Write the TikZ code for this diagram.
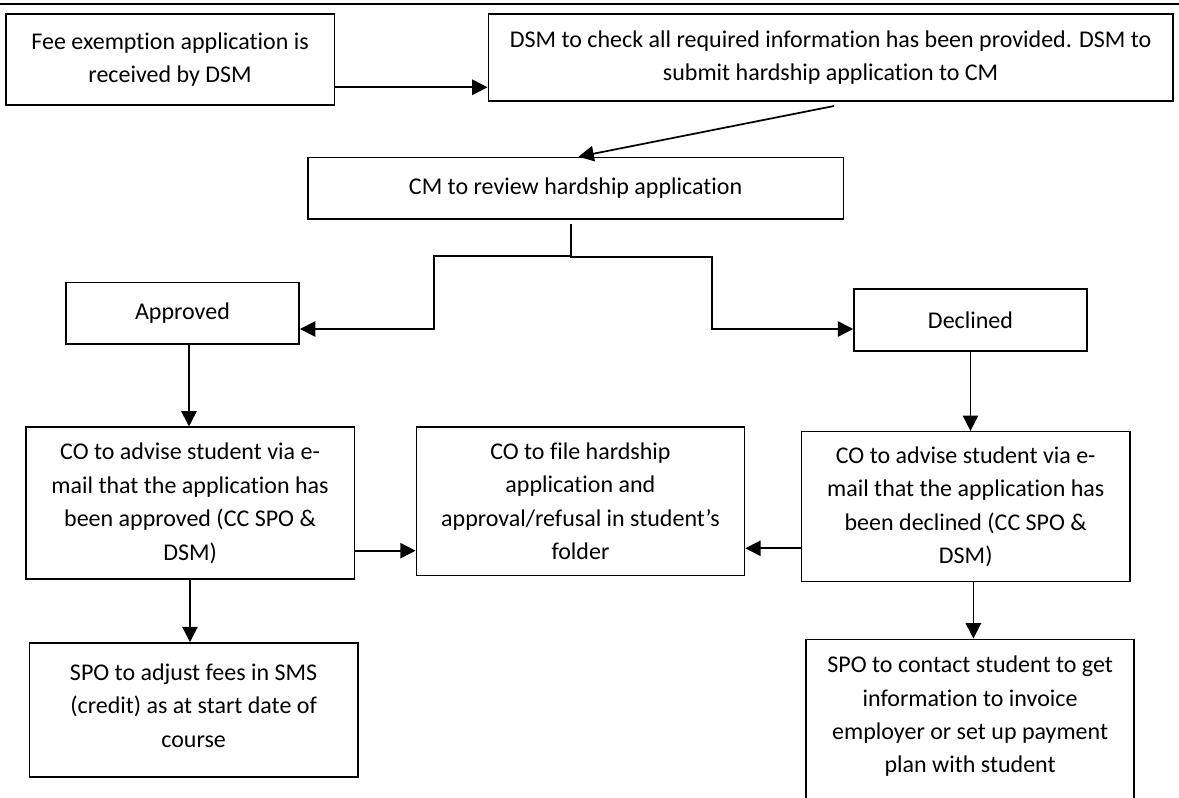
\documentclass[tikz,border=0pt]{standalone}
\usepackage{fontspec}
\setmainfont[Ligatures=NoCommon]{Carlito}
\usetikzlibrary{arrows.meta}
\begin{document}
\begin{tikzpicture}[x=0.75pt, y=-0.75pt,
  box/.style={draw=black, line width=1.2pt, inner sep=0pt, align=center,
    font=\fontsize{18pt}{25.1pt}\selectfont},
  txt/.style={inner sep=0pt, align=center, font=\fontsize{18pt}{25.1pt}\selectfont},
  link/.style={line width=1.3pt},
  arr/.style={line width=1.3pt, -{Triangle[length=11.5pt, width=11.5pt]}},
  rule/.style={line width=2pt}]
\fill[white] (0,0) rectangle (1179,798);
\useasboundingbox (0,0) rectangle (1179,798);
\clip (0,0) rectangle (1179,798);

% top rule
\coordinate (tl) at (0,4);
\coordinate (tr) at (1179,4);
\draw[rule] (tl) -- (tr);

% boxes
\node[box, minimum width=246.6pt, minimum height=68.25pt] (B1) at (170.1,59.5)
  {Fee exemption application is\\received by DSM};
\node[box, minimum width=513.5pt, minimum height=65.25pt] (B2) at (830.65,57.5)
  {DSM to check all required information has been provided. DSM to\\submit hardship application to CM};
\node[box, minimum width=401.9pt, minimum height=46.35pt] (CM) at (575.65,188.4)
  {CM to review hardship application};
\node[box, minimum width=175.1pt, minimum height=46pt] (AP) at (182.45,313.35)
  {Approved};
\node[box, minimum width=174.75pt, minimum height=46.5pt] (DE) at (970.5,320)
  {Declined};
\node[box, minimum width=246.5pt, minimum height=113.8pt] (CA) at (190.05,503.15)
  {CO to advise student via e-\\mail that the application has\\been approved (CC SPO \&\\DSM)};
\node[box, minimum width=246.1pt, minimum height=111.15pt] (CF) at (580.45,501.4)
  {CO to file hardship\\application and\\approval/refusal in student’s\\folder};
\node[box, minimum width=246.4pt, minimum height=112.5pt] (CD) at (965.75,506.7)
  {CO to advise student via e-\\mail that the application has\\been declined (CC SPO \&\\DSM)};
\node[box, minimum width=246.3pt, minimum height=100.35pt] (SA) at (193.6,709.8) {};
\node[txt] (SAt) at (193.6,705.5)
  {SPO to adjust fees in SMS\\(credit) as at start date of\\course};
\node[box, minimum width=246.2pt, minimum height=128pt] (SC) at (970.15,724.65) {};
\node[txt] (SCt) at (970.15,716.4)
  {SPO to contact student to get\\information to invoice\\employer or set up payment\\plan with student};

% helper coordinates
\coordinate (y1) at (0,87.3);
\coordinate (b2o) at (834,106);
\coordinate (cmx) at (578.5,0);
\coordinate (cmo) at (570.7,224);
\coordinate (yap) at (0,329);
\coordinate (xa) at (189,0);
\coordinate (ya) at (0,550.7);
\coordinate (yd) at (0,548.3);
\coordinate (xs) at (190,0);
\coordinate (xd) at (973.4,0);

% connectors
\draw[arr] (B1.east |- y1) -- (B2.west |- y1);
\draw[arr] (b2o) -- (CM.north -| cmx);
\draw[arr] (cmo) -- (570.7,255.7) -- (434,255.7) -- (434,329) -- (AP.east |- yap);
\draw[arr] (569.5,257.3) -- (711.7,257.3) -- (711.7,329) -- (DE.west |- yap);
\draw[arr] (AP.south -| xa) -- (CA.north -| xa);
\draw[arr] (DE.south) -- (CD.north -| DE.south);
\draw[arr] (CA.east |- ya) -- (CF.west |- ya);
\draw[arr] (CD.west |- yd) -- (CF.east |- yd);
\draw[arr] (CA.south -| xs) -- (SA.north -| xs);
\draw[arr] (CD.south -| xd) -- (SC.north -| xd);
\end{tikzpicture}
\end{document}
